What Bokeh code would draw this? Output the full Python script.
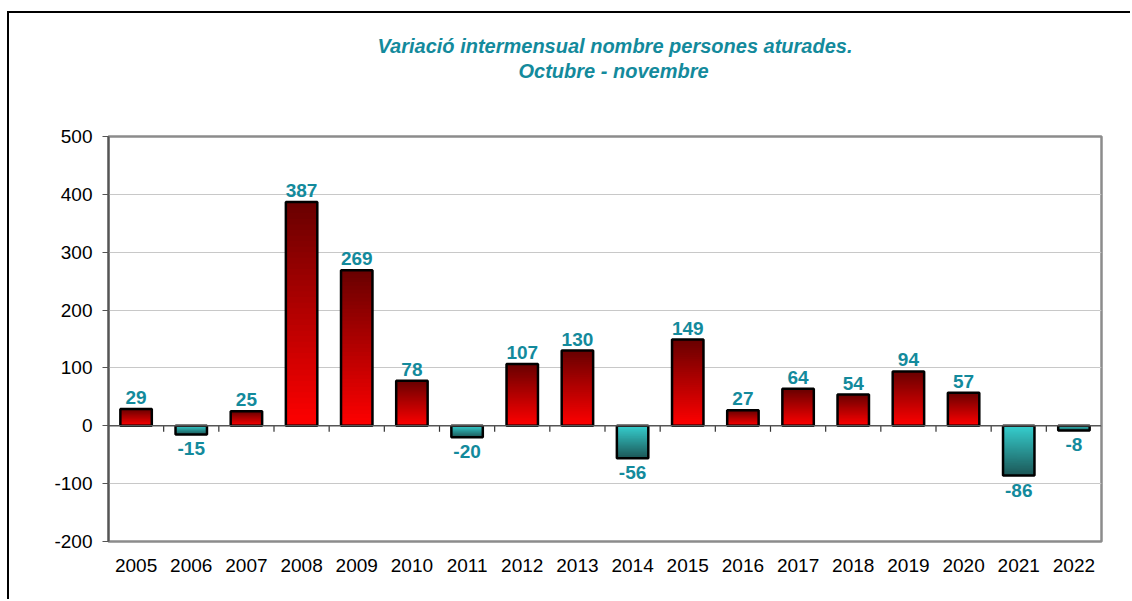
from bokeh.plotting import figure
from bokeh.models import Range1d, FixedTicker, Title, Span, ColumnDataSource
from bokeh.core.properties import value
from bokeh.embed import file_html
from bokeh.resources import INLINE

years = ["2005", "2006", "2007", "2008", "2009", "2010", "2011", "2012", "2013",
         "2014", "2015", "2016", "2017", "2018", "2019", "2020", "2021", "2022"]
values = [29, -15, 25, 387, 269, 78, -20, 107, 130, -56, 149, 27, 64, 54, 94, 57, -86, -8]
title_lines = ["Variació intermensual nombre persones aturades.", "Octubre - novembre"]
y_ticks = [-200, -100, 0, 100, 200, 300, 400, 500]

FONT = "Liberation Sans"
TEAL = "#138a9c"
BAR_W = 0.57
N_SLICES = 40


def lerp(c1, c2, t):
    a = [int(c1[i:i + 2], 16) for i in (1, 3, 5)]
    b = [int(c2[i:i + 2], 16) for i in (1, 3, 5)]
    return "#%02x%02x%02x" % tuple(round(a[k] + (b[k] - a[k]) * t) for k in range(3))


W, H = 1123, 588
p = figure(width=W, height=H, output_backend="svg", toolbar_location=None,
           x_range=Range1d(0, len(years)), y_range=Range1d(-200, 500),
           min_border_left=99, min_border_right=31, min_border_top=123, min_border_bottom=60)
p.styles = {"border-left": "2px solid black", "border-top": "2px solid black",
            "margin-left": "7px", "margin-top": "11px"}
p.outline_line_color = "#8c8c8c"
p.outline_line_width = 2.5
p.background_fill_color = "white"
p.border_fill_color = "white"

# title: a blank spacer next to the frame, then the two lines (later ones sit further out)
title_style = dict(align="left", text_font=FONT, text_font_style="bold italic",
                   text_font_size="20px", text_color=TEAL)
p.add_layout(Title(text=" ", standoff=30, **title_style), "above")
p.add_layout(Title(text=title_lines[1], standoff=2, offset=410, **title_style), "above")
p.add_layout(Title(text=title_lines[0], standoff=0, offset=269, **title_style), "above")

# grid
p.xgrid.grid_line_color = None
p.ygrid.grid_line_color = "#c8c8c8"
p.ygrid.grid_line_width = 1
p.ygrid.ticker = FixedTicker(ticks=y_ticks)

# y axis
p.yaxis.ticker = FixedTicker(ticks=y_ticks)
p.yaxis.major_label_overrides = {t: str(t) for t in y_ticks}
p.yaxis.axis_line_color = "#555555"
p.yaxis.axis_line_width = 2
p.yaxis.major_tick_line_color = "#555555"
p.yaxis.major_tick_out = 6
p.yaxis.major_tick_in = 0
p.yaxis.minor_tick_line_color = None
p.yaxis.major_label_text_font = FONT
p.yaxis.major_label_text_font_size = "19px"
p.yaxis.major_label_text_color = "black"
p.yaxis.major_label_standoff = 10

# x axis (labels only)
centers = [i + 0.5 for i in range(len(years))]
p.xaxis.ticker = FixedTicker(ticks=centers)
p.xaxis.major_label_overrides = {c: y for c, y in zip(centers, years)}
p.xaxis.axis_line_color = None
p.xaxis.major_tick_line_color = None
p.xaxis.minor_tick_line_color = None
p.xaxis.major_label_text_font = FONT
p.xaxis.major_label_text_font_size = "19px"
p.xaxis.major_label_text_color = "black"
p.xaxis.major_label_standoff = 11

# gradient bars (each slice runs to the bar's end; later slices paint over)
pos_top, pos_bot = "#680000", "#ff0000"
neg_top, neg_bot = "#36cfcf", "#1c5656"
sl = dict(left=[], right=[], bottom=[], top=[], color=[])
for c, v in zip(centers, values):
    for j in range(N_SLICES):
        y0 = v * j / N_SLICES
        t = (j + 0.5) / N_SLICES
        if v >= 0:
            col = lerp(pos_bot, pos_top, t)
        else:
            col = lerp(neg_top, neg_bot, t)
        sl["left"].append(c - BAR_W / 2)
        sl["right"].append(c + BAR_W / 2)
        sl["bottom"].append(min(y0, v))
        sl["top"].append(max(y0, v))
        sl["color"].append(col)
p.quad(left="left", right="right", bottom="bottom", top="top", fill_color="color",
       line_color=None, source=ColumnDataSource(sl))

bars = ColumnDataSource(dict(x=centers, top=[max(v, 0) for v in values],
                             bottom=[min(v, 0) for v in values]))
p.vbar(x="x", width=BAR_W, top="top", bottom="bottom", source=bars,
       fill_color=None, line_color="black", line_width=2.5)

# zero line and category ticks
p.add_layout(Span(location=0, dimension="width", line_color="#555555", line_width=1.5))
bounds = list(range(1, len(years)))
tick_len = 700 / 405 * 6
p.segment(x0=bounds, y0=[0] * len(bounds), x1=bounds, y1=[-tick_len] * len(bounds),
          line_color="#333333", line_width=1.2)

# value labels
pos = [(c, v) for c, v in zip(centers, values) if v >= 0]
neg = [(c, v) for c, v in zip(centers, values) if v < 0]
p.text(x=[c for c, _ in pos], y=[v for _, v in pos], text=[str(v) for _, v in pos],
       text_align="center", text_baseline="bottom", y_offset=-5,
       text_font=value(FONT), text_font_style="bold", text_font_size="19px", text_color=TEAL)
p.text(x=[c for c, _ in neg], y=[v for _, v in neg], text=[str(v) for _, v in neg],
       text_align="center", text_baseline="top", y_offset=8,
       text_font=value(FONT), text_font_style="bold", text_font_size="19px", text_color=TEAL)

open("out.html", "w").write(file_html(p, INLINE))
